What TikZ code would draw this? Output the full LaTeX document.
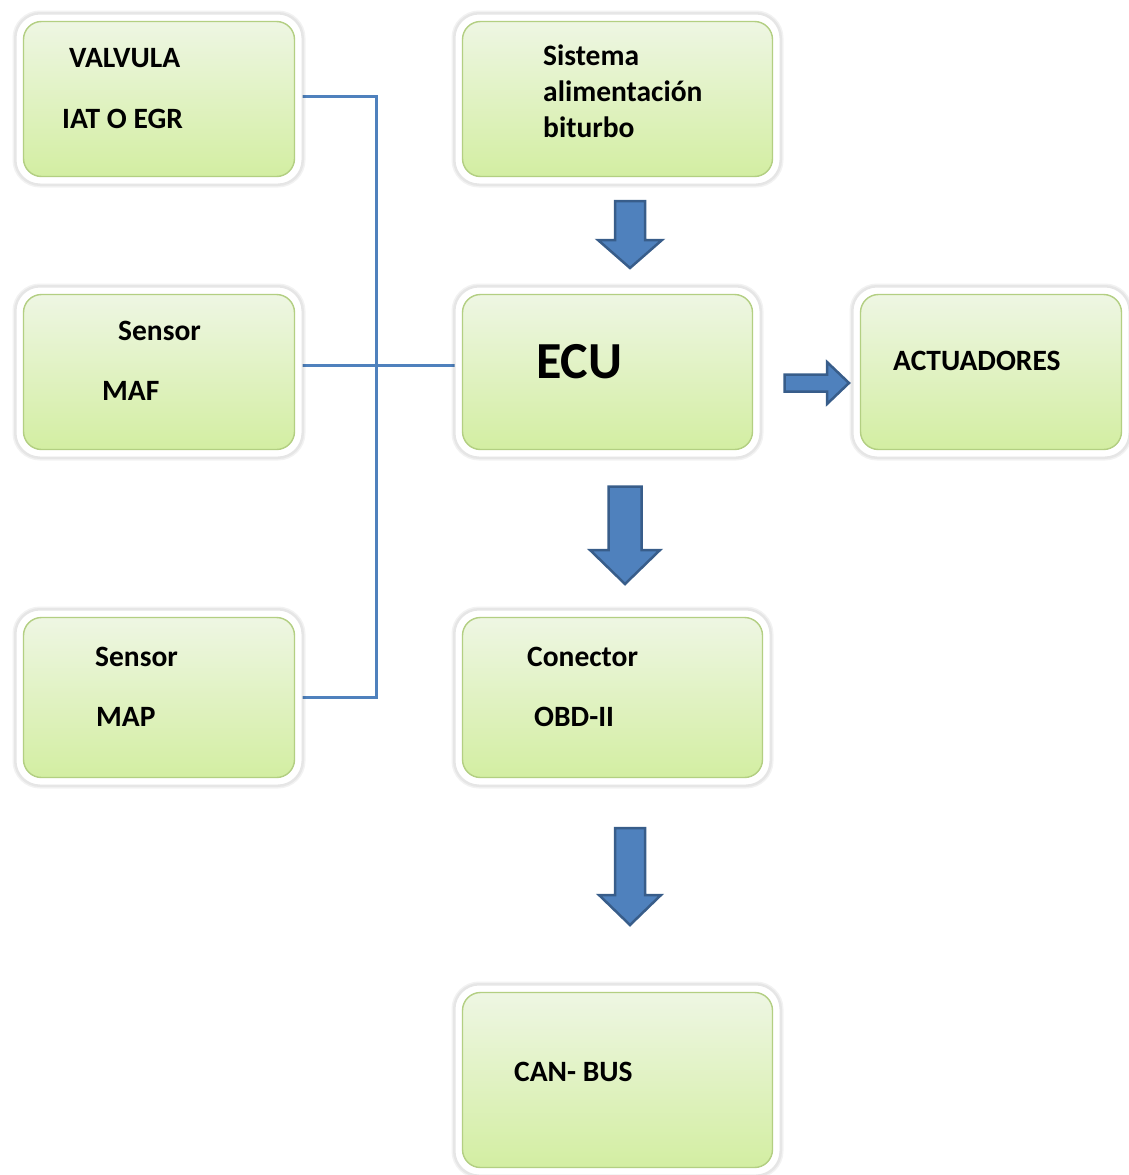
\documentclass[tikz,border=0pt]{standalone}
\usepackage{fontspec}
\setmainfont{Carlito}
\definecolor{lnk}{HTML}{4F81BD}
\definecolor{arrf}{HTML}{4F81BD}
\definecolor{arrd}{HTML}{385D8A}
\definecolor{gtop}{HTML}{EEF6E3}
\definecolor{gbot}{HTML}{D3EEA2}
\definecolor{gedge}{HTML}{B3CF82}
\newcommand{\mycard}[5]{%
  \node[frame, minimum width={#4-#2}, minimum height={#5-#3}] (#1) at ({(#2+#4)/2},{(#3+#5)/2}) {};
  \fill[innerbox] ([shift={(8,8)}]#1.north west) rectangle ([shift={(-8,-8)}]#1.south east);
}
\newcommand{\mydarrow}[6]{% cx top neck tip shaftHalf headHalf
  \draw[barrow] ({#1-#5},#2) -- ({#1+#5},#2) -- ({#1+#5},#3) -- ({#1+#6},#3) -- (#1,#4) -- ({#1-#6},#3) -- ({#1-#5},#3) -- cycle;
}
\begin{document}
\begin{tikzpicture}[x=1pt,y=-1pt,
  frame/.style={rectangle, rounded corners=24pt, fill=white, draw=black!10, line width=1pt, inner sep=0pt,
    preaction={draw=black, draw opacity=0.05, line width=7pt},
    preaction={draw=black, draw opacity=0.05, line width=4pt}},
  innerbox/.style={rounded corners=18pt, top color=gtop, bottom color=gbot, draw=gedge, line width=1.4pt},
  barrow/.style={fill=arrf, draw=arrd, line width=2.5pt, line join=miter},
  link/.style={draw=lnk, line width=3pt},
  txt/.style={anchor=base west, inner sep=0pt, font=\fontsize{29.5}{34}\selectfont\bfseries},
  big/.style={anchor=base west, inner sep=0pt, font=\fontsize{52}{60}\selectfont\bfseries}]
\useasboundingbox (0,0) rectangle (1129,1175);

% connectors (behind)
\coordinate (j1) at (376,96);
\coordinate (j2) at (376,697);
\draw[link] (300,96) -- (j1) -- (j2) -- (300,697);
\draw[link] (300,365) -- (458,365);

% boxes
\mycard{valv}{16}{14}{302}{184}
\mycard{sist}{455}{14}{780}{184}
\mycard{maf}{16}{287}{302}{457}
\mycard{ecu}{455}{287}{760}{457}
\mycard{act}{853}{287}{1129}{457}
\mycard{map}{16}{610}{302}{785}
\mycard{obd}{455}{610}{770}{785}
\mycard{can}{455}{985}{780}{1175}

% texts
\node[txt] (t1) at (69,67) {VALVULA};
\node[txt] (t2) at (62,128) {IAT O EGR};
\node[txt] (t3) at (543,65) {Sistema};
\node[txt] (t4) at (543,101) {alimentación};
\node[txt] (t5) at (543,137) {biturbo};
\node[txt] (t6) at (118,340) {Sensor};
\node[txt] (t7) at (102,400) {MAF};
\node[big] (t8) at (536,378) {ECU};
\node[txt] (t9) at (893,370) {ACTUADORES};
\node[txt] (t10) at (95,666) {Sensor};
\node[txt] (t11) at (96,726) {MAP};
\node[txt] (t12) at (527,666) {Conector};
\node[txt] (t13) at (534,726) {OBD-II};
\node[txt] (t14) at (514,1081) {CAN- BUS};

% block arrows
\mydarrow{630}{201}{240}{268}{15}{32}
\mydarrow{625}{486.5}{550}{584}{16.5}{35}
\mydarrow{630}{828}{895}{925}{15}{31}
\draw[barrow] (784.5,374.5) -- (827,374.5) -- (827,362) -- (849,383) -- (827,404) -- (827,391.5) -- (784.5,391.5) -- cycle;
\end{tikzpicture}
\end{document}
